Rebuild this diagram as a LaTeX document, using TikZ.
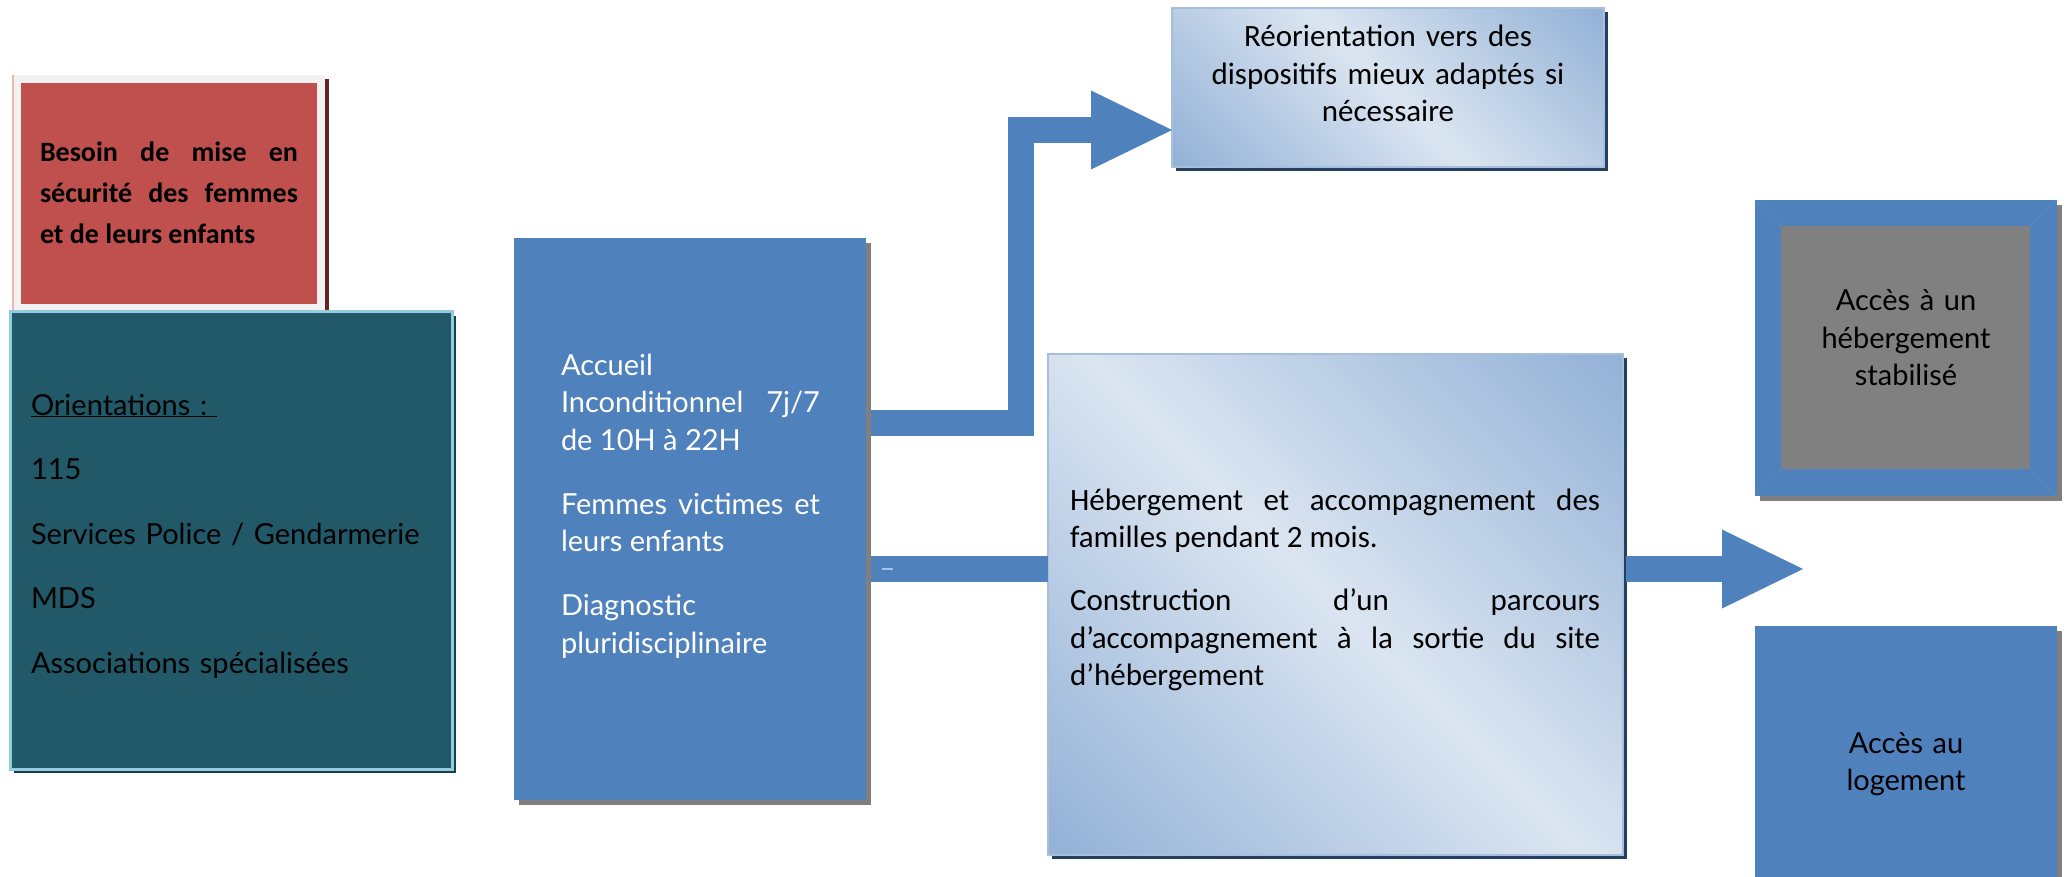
\documentclass[tikz,border=0pt]{standalone}
\usepackage{fontspec}
\setmainfont{Lato}
\newfontfamily\marfont{Lato}
\newfontfamily\calfont{Carlito}
\usetikzlibrary{arrows.meta,calc,shadows}

\definecolor{accblue}{HTML}{4F81BD}
\definecolor{tealbox}{HTML}{215968}
\definecolor{tealedge}{HTML}{93CDDD}
\definecolor{tealshadow}{HTML}{17404C}
\definecolor{redbox}{HTML}{C0504D}
\definecolor{redshadow}{HTML}{632523}
\definecolor{framegrey}{HTML}{F2F2F2}
\definecolor{pinkedge}{HTML}{E6B9B8}
\definecolor{shadowgrey}{HTML}{7F7F7F}
\definecolor{innergrey}{HTML}{808080}
\definecolor{gradlight}{HTML}{DBE5F1}
\definecolor{graddark}{HTML}{95B3D7}
\definecolor{gradedge}{HTML}{A7BFDE}
\definecolor{navyshadow}{HTML}{243F60}
\definecolor{markblue}{HTML}{A9C4E6}

\pgfdeclarehorizontalshading{diagblue}{100bp}{color(0bp)=(graddark); color(16bp)=(graddark); color(50bp)=(gradlight); color(84bp)=(graddark); color(100bp)=(graddark)}

\tikzset{
  boxbase/.style={rectangle, inner sep=0pt, outer sep=0pt, anchor=north west},
  bluebox/.style={boxbase, fill=accblue,
    drop shadow={shadow xshift=5pt, shadow yshift=-5pt, opacity=1, fill=shadowgrey}},
  gradbox/.style={boxbase, shade, shading=diagblue, shading angle=45, draw=gradedge, line width=2pt,
    drop shadow={shadow xshift=4pt, shadow yshift=-4pt, opacity=1, fill=navyshadow}},
  redframe/.style={boxbase, fill=framegrey,
    drop shadow={shadow xshift=4pt, shadow yshift=-4pt, opacity=1, fill=redshadow}},
  tealstyle/.style={boxbase, fill=tealbox, draw=tealedge, line width=3pt,
    drop shadow={shadow xshift=4pt, shadow yshift=-4pt, opacity=1, fill=tealshadow}},
  txt/.style={inner sep=0pt, outer sep=0pt},
  martxt/.style={txt, font=\marfont\fontsize{29}{37.5}\selectfont},
  caltxt/.style={txt, font=\calfont\fontsize{31}{37.5}\selectfont},
  fatarrow/.style={draw=accblue, line width=26pt, line join=miter,
    -{Triangle[length=81pt, width=79pt, line width=0pt]}},
  fatbar/.style={draw=accblue, line width=26pt},
  lightmark/.style={draw=markblue, line width=1.5pt},
  bevelline/.style={draw=accblue!93!white, line width=0.7pt},
}

\begin{document}
\begin{tikzpicture}[x=1pt, y=-1pt]
\useasboundingbox (0,0) rectangle (2072,877);
\fill[white] (0,0) rectangle (2072,877);

% --- left column
\node[redframe, minimum width=312pt, minimum height=236pt] (rframe) at (13,75) {};
\draw[pinkedge, line width=1.5pt] (rframe.north west) -- (rframe.south west);
\node[boxbase, fill=redbox, minimum width=296pt, minimum height=221pt] (besoin) at (21,83) {};
\node[txt, anchor=base west, text width=258pt, align=justify,
      font=\calfont\bfseries\fontsize{28}{41}\selectfont] (besointxt) at (40,162)
  {Besoin de mise en\linebreak sécurité des femmes\linebreak et de leurs enfants};

\node[tealstyle, minimum width=442pt, minimum height=457pt] (orient) at (10,312) {};
\node[martxt, anchor=base west, text width=420pt, align=left] (orienttxt) at (31,415)
  {\setlength{\parskip}{27pt}\underline{Orientations :\ }\par 115\par Services Police / Gendarmerie\par MDS\par Associations spécialisées};

% --- accueil
\node[bluebox, minimum width=352pt, minimum height=562pt] (acc) at (514,238) {};
\node[martxt, text=white, anchor=base west, text width=259pt, align=justify] (acctxt) at (561,375)
  {\setlength{\parskip}{26.5pt}Accueil\linebreak Inconditionnel\ \ \ 7j/7\linebreak de 10H à 22H\par
   Femmes victimes et\linebreak leurs enfants\par Diagnostic\linebreak pluridisciplinaire};

% --- reorientation
\node[gradbox, minimum width=432pt, minimum height=159pt] (reo) at (1172,8) {};
\node[caltxt, anchor=base, text width=420pt, align=center] (reotxt) at (1388,47)
  {Réorientation vers des\\dispositifs mieux adaptés si\\nécessaire};

% --- hebergement
\node[gradbox, minimum width=575pt, minimum height=501pt] (heb) at (1048,354) {};
\node[caltxt, anchor=base west, text width=530pt, align=justify] (hebtxt) at (1070,510)
  {\setlength{\parskip}{25.7pt}Hébergement et accompagnement des\linebreak familles pendant 2 mois.\par
   Construction d’un parcours\linebreak d’accompagnement à la sortie du site\linebreak d’hébergement};

% --- right boxes
\node[bluebox, minimum width=302pt, minimum height=296pt] (stabframe) at (1755,200) {};
\node[boxbase, fill=innergrey, minimum width=249pt, minimum height=243pt] (stab) at (1781,226) {};
\draw[bevelline] (stabframe.north west) -- (stab.north west);
\draw[bevelline] (stabframe.north east) -- (stab.north east);
\draw[bevelline] (stabframe.south west) -- (stab.south west);
\draw[bevelline] (stabframe.south east) -- (stab.south east);
\node[martxt, anchor=base, text width=280pt, align=center] (stabtxt) at (1906,311)
  {Accès à un\\hébergement\\stabilisé};

\node[bluebox, minimum width=302pt, minimum height=262pt] (loge) at (1755,626) {};
\node[martxt, anchor=base, text width=280pt, align=center] (logetxt) at (1906,753)
  {Accès au\\logement};

% --- connectors
\coordinate (bend) at ($(reo.south west)+(-151,-37)$);
\draw[fatarrow] ($(acc.north east)+(5,184.7)$) -| (bend) -- ($(reo.south west)+(0,-37)$);
\draw[fatbar] ($(acc.north east)+(5,331)$) -- ($(heb.north west)+(0,215)$);
\draw[lightmark] ($(acc.north east)+(16,331)$) -- ($(acc.north east)+(27,331)$);
\coordinate (tipR) at ($(heb.north east)+(180,215)$);
\draw[fatarrow] ($(heb.north east)+(3,215)$) -- (tipR);
\end{tikzpicture}
\end{document}
